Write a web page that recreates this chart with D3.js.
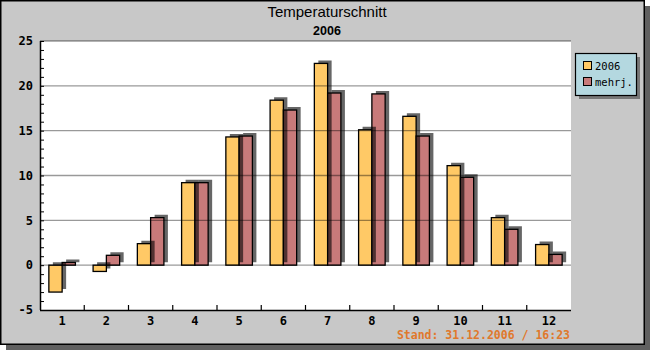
<!DOCTYPE html>
<html><head><meta charset="utf-8">
<script src="https://cdn.jsdelivr.net/npm/d3@7"></script>
<style>body{margin:0;background:#fff}svg{display:block}</style>
</head><body>
<script>
const months = ["1","2","3","4","5","6","7","8","9","10","11","12"];
const values2006 = [-3.0,-0.7,2.4,9.2,14.3,18.4,22.5,15.1,16.6,11.1,5.3,2.3];
const valuesMehrj = [0.3,1.1,5.3,9.2,14.4,17.3,19.2,19.1,14.4,9.8,4.0,1.2];
const seriesNames = ["2006","mehrj."];
const seriesColors = ["#FFC966","#C87A7A"];
const yTicks = [-5,0,5,10,15,20,25];
const title = "Temperaturschnitt";
const subtitle = "2006";
const footer = "Stand: 31.12.2006 / 16:23";

const W=650,H=350;
const svg=d3.select("body").append("svg").attr("width",W).attr("height",H);
// frame with shadow
svg.append("rect").attr("x",6).attr("y",6).attr("width",644).attr("height",344).attr("fill","#606060");
svg.append("rect").attr("x",0.75).attr("y",0.75).attr("width",643.5).attr("height",343.5)
  .attr("fill","#C8C8C8").attr("stroke","#000").attr("stroke-width",1.5);

const L=40,R=571,T=41,B=310;
const x=d3.scaleBand().domain(months).range([L,R]).padding(0);
const y=d3.scaleLinear().domain([-5,25]).range([B,T]);

svg.append("rect").attr("x",L).attr("y",T).attr("width",R-L).attr("height",B-T).attr("fill","#fff");

const bw=x.bandwidth()*0.3;
const series=[values2006,valuesMehrj];
const bars=[];
months.forEach((m,i)=>{
  series.forEach((vals,s)=>{
    const v=vals[i];
    const bx=x(m)+x.bandwidth()/2-bw+s*bw;
    const y0=y(Math.max(0,v)), y1=y(Math.min(0,v));
    bars.push({x:bx,y:y0,h:y1-y0,s});
  });
});
const g=svg.append("g");
const dx=4,dy=-3;
bars.forEach(b=>{
  g.append("rect").attr("x",b.x).attr("y",b.y).attr("width",bw).attr("height",b.h)
   .attr("fill",seriesColors[b.s]).attr("stroke","#000").attr("stroke-width",1.3);
  if(b.s===1){
    // after each month's pair: shadows for both bars of that month
  }
});
// shadows (offset up-right), visible L-shape only
bars.forEach(b=>{
  const x0=b.x, y0=b.y, w=bw, h=b.h;
  const pts=[[x0+dx,y0],[x0+dx,y0+dy],[x0+w+dx,y0+dy],[x0+w+dx,y0+h+dy],[x0+w,y0+h+dy],[x0+w,y0]];
  g.append("path").attr("d","M"+pts.map(p=>p.join(",")).join("L")+"Z")
   .attr("fill","#000").attr("fill-opacity",0.6);
});

// gridlines
svg.append("g").selectAll("line").data(yTicks.filter(t=>t>-5)).join("line")
  .attr("x1",L).attr("x2",R).attr("y1",d=>y(d)).attr("y2",d=>y(d))
  .attr("stroke","#000").attr("stroke-opacity",0.4).attr("stroke-width",1.3);

// y axis
const yAxis=svg.append("g").attr("transform",`translate(${L},0)`)
  .call(d3.axisRight(y).ticks(30).tickSize(4).tickFormat(""));
yAxis.select(".domain").attr("stroke","#000").attr("stroke-width",1.5).attr("d",`M0.5,${T}V${B}`);
yAxis.selectAll(".tick line").attr("stroke","#000");
svg.append("g").selectAll("text").data(yTicks).join("text")
  .attr("x",33).attr("y",d=>y(d)).attr("dy","0.35em").attr("text-anchor","end")
  .attr("font-family","DejaVu Sans Mono").attr("font-weight","bold").attr("font-size",12)
  .text(d=>d);

// x axis
const xAxis=svg.append("g").attr("transform",`translate(0,${B})`)
  .call(d3.axisBottom(x).tickSize(0).tickFormat(d=>d));
xAxis.select(".domain").attr("stroke","#000").attr("stroke-width",1.5).attr("d",`M${L},0.5H${R}`);
xAxis.selectAll(".tick text").attr("y",11).attr("dy","0.35em")
  .attr("font-family","DejaVu Sans Mono").attr("font-weight","bold").attr("font-size",12).attr("fill","#000");
svg.append("g").selectAll("line").data(months.slice(1)).join("line")
  .attr("x1",d=>x(d)).attr("x2",d=>x(d)).attr("y1",B).attr("y2",B-5).attr("stroke","#000").attr("stroke-width",1.2);

// titles
svg.append("text").attr("x",327).attr("y",17).attr("text-anchor","middle")
  .attr("font-family","Liberation Sans").attr("font-size",15).text(title);
svg.append("text").attr("x",327).attr("y",35).attr("text-anchor","middle")
  .attr("font-family","Liberation Sans").attr("font-weight","bold").attr("font-size",12.5).text(subtitle);
svg.append("text").attr("x",570).attr("y",339).attr("text-anchor","end")
  .attr("font-family","DejaVu Sans Mono").attr("font-weight","bold").attr("font-size",11.5)
  .attr("fill","#E0782C").text(footer);

// legend
const lg=svg.append("g");
lg.append("rect").attr("x",579).attr("y",57).attr("width",61).attr("height",42).attr("fill","#777");
lg.append("rect").attr("x",575.5).attr("y",53.5).attr("width",61).attr("height",42)
  .attr("fill","#B4D8E0").attr("stroke","#000").attr("stroke-width",1.2);
seriesNames.forEach((n,i)=>{
  const cy=66+i*16;
  lg.append("rect").attr("x",583.5).attr("y",cy-4.5).attr("width",8).attr("height",8)
    .attr("fill",seriesColors[i]).attr("stroke","#000").attr("stroke-width",1);
  lg.append("text").attr("x",595).attr("y",cy).attr("dy","0.35em")
    .attr("font-family","DejaVu Sans Mono").attr("font-size",10.5).text(n);
});
</script>
</body></html>
